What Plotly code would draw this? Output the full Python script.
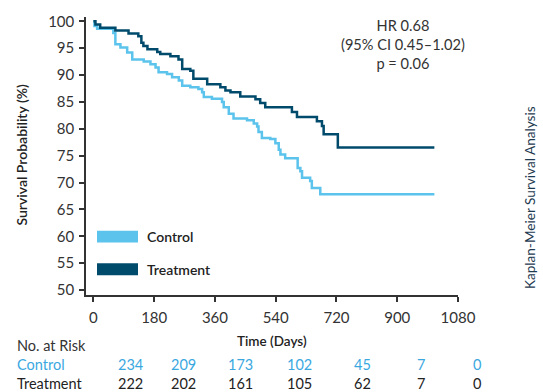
import plotly.graph_objects as go

# ---- data ----
control_days = [0, 3, 11, 59, 65, 80, 100, 115, 149, 169, 184, 193, 218, 233, 253, 263, 287, 311, 322, 327,
                351, 381, 386, 401, 415, 455, 475, 485, 489, 499, 524, 539, 549, 554, 568, 605, 613, 618, 642, 647,
                672, 1010]
control_surv = [100, 99.1, 98.6, 97.8, 95.7, 95.1, 94.2, 92.9, 92.5, 92.0, 91.4, 90.5, 90.2, 89.6, 89.0, 88.0,
                87.7, 87.4, 86.8, 85.9, 85.6, 85.0, 84.0, 82.8, 81.9, 81.6, 81.0, 80.4, 79.4, 78.3, 78.1, 77.3,
                76.1, 75.2, 74.5, 72.7, 72.1, 70.9, 70.3, 69.0, 67.8, 67.8]
treat_days = [0, 6, 20, 65, 104, 133, 142, 148, 160, 189, 198, 228, 252, 263, 287, 296, 337, 376, 391, 406,
              435, 480, 494, 509, 588, 603, 662, 677, 682, 724, 1010]
treat_surv = [100, 99.4, 98.8, 98.3, 97.7, 97.2, 96.0, 95.4, 94.8, 94.3, 93.9, 93.5, 92.9, 91.1, 90.8, 89.3,
              88.3, 87.7, 87.1, 86.8, 86.0, 85.5, 84.8, 84.0, 83.1, 82.2, 81.4, 80.5, 79.0, 76.5, 76.5]
x_ticks = [0, 180, 360, 540, 720, 900, 1080]
y_ticks = [50, 55, 60, 65, 70, 75, 80, 85, 90, 95, 100]
risk_control = [234, 209, 173, 102, 45, 7, 0]
risk_treat = [222, 202, 161, 105, 62, 7, 0]
series_names = ["Control", "Treatment"]
hr_text = "HR 0.68<br>(95% CI 0.45–1.02)<br>p = 0.06"

# ---- style ----
C_CTRL = "#5bc3ec"
C_TRT = "#004a6c"
C_CTRL_TXT = "#3aa8df"
TXT = "#333333"
FONT = "Lato"

W, H = 543, 392
L, R, T, B = 86, 85, 14, 97
pw, ph = W - L - R, H - T - B


def px(x):
    return (x - L) / pw


def py(y):
    return (H - B - y) / ph


fig = go.Figure()
fig.add_trace(go.Scatter(x=control_days, y=control_surv, mode="lines", line_shape="hv",
                         line=dict(color=C_CTRL, width=2.5), name=series_names[0], showlegend=False))
fig.add_trace(go.Scatter(x=treat_days, y=treat_surv, mode="lines", line_shape="hv",
                         line=dict(color=C_TRT, width=2.5), name=series_names[1], showlegend=False))

ann = []
shapes = []
# legend
for i, (name, col) in enumerate(zip(series_names, [C_CTRL, C_TRT])):
    yc = 236 + i * 33
    shapes.append(dict(type="rect", xref="paper", yref="paper", x0=px(97), x1=px(138),
                       y0=py(yc - 6), y1=py(yc + 6), fillcolor=col, line=dict(width=0)))
    ann.append(dict(text=name, xref="paper", yref="paper", x=px(145), y=py(yc), xanchor="left",
                    yanchor="middle", showarrow=False, font=dict(family=FONT, size=14, color="#222222",
                                                                 weight=600)))
# HR text
ann.append(dict(text=hr_text, xref="paper", yref="paper", x=px(403), y=py(12), xanchor="center",
                yanchor="top", showarrow=False, align="center",
                font=dict(family=FONT, size=14.6, color=TXT)))
# Right side title
ann.append(dict(text="Kaplan-Meier Survival Analysis", xref="paper", yref="paper", x=px(530), y=py(197),
                xanchor="center", yanchor="middle", textangle=-90, showarrow=False,
                font=dict(family=FONT, size=13.6, color="#1e3a50")))
# axis titles
ann.append(dict(text="Survival Probability (%)", xref="paper", yref="paper", x=px(22), y=py(153),
                xanchor="center", yanchor="middle", textangle=-90, showarrow=False,
                font=dict(family=FONT, size=14, color="#222222", weight=600)))
ann.append(dict(text="Time (Days)", xref="paper", yref="paper", x=px(272), y=py(341),
                xanchor="center", yanchor="middle", showarrow=False,
                font=dict(family=FONT, size=13.5, color="#222222", weight=600)))
# risk table
ann.append(dict(text="No. at Risk", xref="paper", yref="paper", x=px(15), y=py(346),
                xanchor="left", yanchor="middle", showarrow=False,
                font=dict(family=FONT, size=14.5, color=TXT)))
ann.append(dict(text="Control", xref="paper", yref="paper", x=px(15), y=py(365),
                xanchor="left", yanchor="middle", showarrow=False,
                font=dict(family=FONT, size=14.5, color=C_CTRL_TXT)))
ann.append(dict(text="Treatment", xref="paper", yref="paper", x=px(15), y=py(384),
                xanchor="left", yanchor="middle", showarrow=False,
                font=dict(family=FONT, size=14.5, color="#222222")))
risk_x = [130, 183, 240, 299, 362, 421, 477]
for xc, vc, vt in zip(risk_x, risk_control, risk_treat):
    ann.append(dict(text=str(vc), xref="paper", yref="paper", x=px(xc), y=py(365), xanchor="center",
                    yanchor="middle", showarrow=False, font=dict(family=FONT, size=14.5, color=C_CTRL_TXT)))
    ann.append(dict(text=str(vt), xref="paper", yref="paper", x=px(xc), y=py(384), xanchor="center",
                    yanchor="middle", showarrow=False, font=dict(family=FONT, size=14.5, color="#222222")))

fig.update_layout(
    width=W, height=H, margin=dict(l=L, r=R, t=T, b=B),
    paper_bgcolor="white", plot_bgcolor="white",
    font=dict(family=FONT, size=14, color=TXT),
    annotations=ann, shapes=shapes, showlegend=False,
)
fig.update_xaxes(range=[-22, 1080], tickvals=x_ticks, ticktext=[str(v) for v in x_ticks],
                 showgrid=False, zeroline=False, showline=True, linecolor="#333333", linewidth=1.5,
                 ticks="outside", ticklen=5, tickwidth=1.5, tickcolor="#333333", ticklabelstandoff=3,
                 tickfont=dict(family=FONT, size=15, color=TXT))
fig.update_yaxes(range=[49.08, 100.79], tickvals=y_ticks, ticktext=[str(v) for v in y_ticks],
                 showgrid=False, zeroline=False, showline=True, linecolor="#333333", linewidth=1.5,
                 ticks="outside", ticklen=5, tickwidth=1.5, tickcolor="#333333", ticklabelstandoff=2,
                 tickfont=dict(family=FONT, size=15, color=TXT))

fig.write_html("out.html")
